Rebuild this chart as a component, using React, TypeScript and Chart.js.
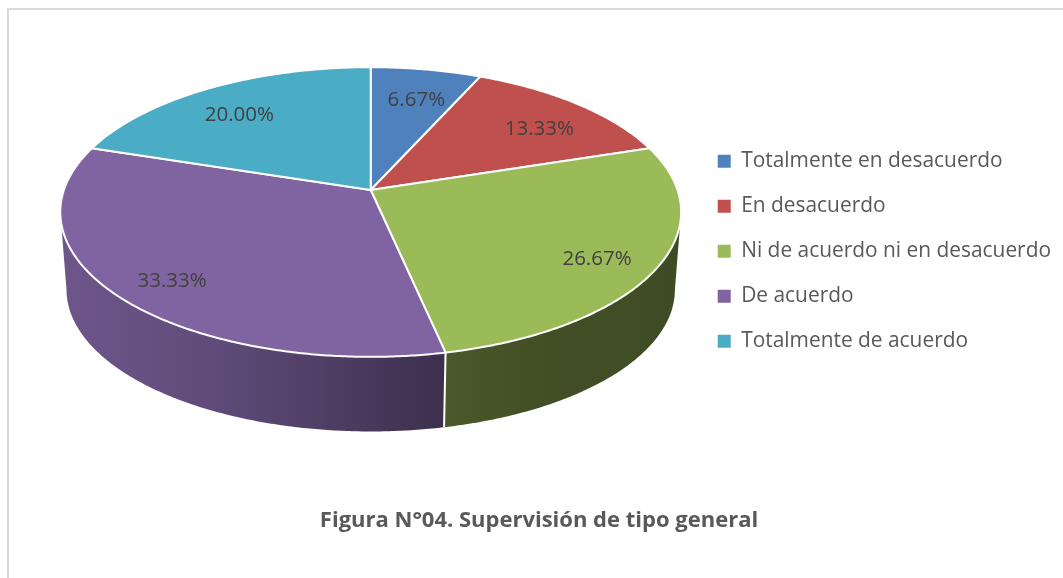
import React, { useEffect, useRef } from "react";
import { Chart, registerables } from "chart.js";

Chart.register(...registerables);

// ---- data ----
const categories = [
  "Totalmente en desacuerdo",
  "En desacuerdo",
  "Ni de acuerdo ni en desacuerdo",
  "De acuerdo",
  "Totalmente de acuerdo",
];
const percentages = [6.67, 13.33, 26.67, 33.33, 20.0];
const valueLabels = ["6.67%", "13.33%", "26.67%", "33.33%", "20.00%"];
const sliceColors = ["#4f81bd", "#c0504d", "#9bbb59", "#8064a2", "#4bacc6"];
const chartTitle = "Figura N°04. Supervisión de tipo general";

// ---- styles ----
const FONT = "'Open Sans', 'Noto Sans', sans-serif";
const sideStops: [number, number][] = [
  [0, 0.86],
  [0.23, 0.76],
  [0.39, 0.65],
  [0.61, 0.48],
  [0.75, 0.43],
  [1, 0.4],
];
// plot area offset inside the chart area (px at k = 1)
const plotShiftX = 15.5;
const plotShiftY = -2;

function shade(hex: string, f: number) {
  const n = parseInt(hex.slice(1), 16);
  const r = Math.round(((n >> 16) & 255) * f);
  const g = Math.round(((n >> 8) & 255) * f);
  const b = Math.round((n & 255) * f);
  return `rgb(${r},${g},${b})`;
}

const pie3dPlugin = {
  id: "pie3d",
  beforeDraw(chart: any) {
    const ctx = chart.ctx;
    ctx.save();
    ctx.strokeStyle = "#d9d9d9";
    ctx.lineWidth = 2;
    ctx.strokeRect(8, 9, 1300, 800);
    ctx.restore();
  },
  beforeDatasetsDraw(chart: any) {
    const meta = chart.getDatasetMeta(0);
    const arcs = meta.data as any[];
    if (!arcs.length) return false;
    const ctx = chart.ctx as CanvasRenderingContext2D;
    const first = arcs[0];
    const R = first.outerRadius;
    const k = R / 240;
    const a = 309 * k;
    const b = 142.5 * k;
    const h = 78.5 * k;
    const p = 0.152;
    const s2 = 0.98;
    const hx = first.x + plotShiftX * k;
    const hy = first.y + plotShiftY * k - (-b / (1 + p) + h + (s2 * b) / (1 - p)) / 2;

    const pt = (th: number, r: number, low: boolean): [number, number] => {
      const c = Math.cos(th);
      const s = Math.sin(th);
      const den = 1 + p * r * c;
      const X = (r * s) / den;
      const Y = (r * c) / den;
      return low ? [hx + s2 * a * X, hy + h - s2 * b * Y] : [hx + a * X, hy - b * Y];
    };
    const step = Math.PI / 360;
    const arcPts = (t1: number, t2: number, r: number, low: boolean) => {
      const n = Math.max(2, Math.ceil(Math.abs(t2 - t1) / step));
      const out: [number, number][] = [];
      for (let i = 0; i <= n; i++) out.push(pt(t1 + ((t2 - t1) * i) / n, r, low));
      return out;
    };
    const thR = Math.acos(-p);
    const thL = 2 * Math.PI - thR;
    const x0 = hx - a * 1.02;
    const x1 = hx + a * 1.02;

    ctx.save();
    // sides
    arcs.forEach((el: any) => {
      const t1 = el.startAngle + Math.PI / 2;
      const t2 = el.endAngle + Math.PI / 2;
      const lo = Math.max(t1, thR);
      const hi = Math.min(t2, thL);
      if (hi <= lo) return;
      const poly = [...arcPts(lo, hi, 1, false), ...arcPts(hi, lo, 1, true)];
      ctx.beginPath();
      poly.forEach(([x, y], j) => (j ? ctx.lineTo(x, y) : ctx.moveTo(x, y)));
      ctx.closePath();
      const g = ctx.createLinearGradient(x0, 0, x1, 0);
      sideStops.forEach(([t, f]) => g.addColorStop(t, shade(el.options.backgroundColor, f)));
      ctx.fillStyle = g;
      ctx.fill();
    });
    // side dividers
    ctx.strokeStyle = "#ffffff";
    ctx.lineWidth = 2;
    arcs.forEach((el: any) => {
      const t = el.startAngle + Math.PI / 2;
      if (t > thR && t < thL) {
        const [ax, ay] = pt(t, 1, false);
        const [bx, by] = pt(t, 1, true);
        ctx.beginPath();
        ctx.moveTo(ax, ay);
        ctx.lineTo(bx, by);
        ctx.stroke();
      }
    });
    // top faces
    arcs.forEach((el: any) => {
      const t1 = el.startAngle + Math.PI / 2;
      const t2 = el.endAngle + Math.PI / 2;
      ctx.beginPath();
      ctx.moveTo(hx, hy);
      arcPts(t1, t2, 1, false).forEach(([x, y]) => ctx.lineTo(x, y));
      ctx.closePath();
      ctx.fillStyle = el.options.backgroundColor;
      ctx.fill();
      ctx.lineJoin = "round";
      ctx.strokeStyle = "#ffffff";
      ctx.lineWidth = 2;
      ctx.stroke();
    });
    // value labels
    ctx.fillStyle = "#404040";
    ctx.font = `20.5px ${FONT}`;
    ctx.textAlign = "center";
    ctx.textBaseline = "middle";
    arcs.forEach((el: any, i: number) => {
      const tm = (el.startAngle + el.endAngle) / 2 + Math.PI / 2;
      const [lx, ly] = pt(tm, 0.8, false);
      ctx.fillText(valueLabels[i], lx, ly + 9 * k);
    });
    ctx.restore();
    return false;
  },
};

export default function App() {
  const ref = useRef<HTMLCanvasElement>(null);
  useEffect(() => {
    const chart = new Chart(ref.current!, {
      type: "pie",
      data: {
        labels: categories,
        datasets: [
          {
            data: percentages,
            backgroundColor: sliceColors,
            borderWidth: 0,
          },
        ],
      },
      options: {
        responsive: false,
        animation: false,
        devicePixelRatio: 1,
        events: [],
        layout: { padding: { left: 17, right: 2, top: 13, bottom: 44 } },
        plugins: {
          legend: {
            position: "right",
            fullSize: false,
            labels: {
              boxWidth: 13,
              boxHeight: 13,
              padding: 24.1,
              color: "#595959",
              font: { family: FONT, size: 20.9 },
            },
          },
          title: {
            display: true,
            text: chartTitle,
            position: "bottom",
            color: "#595959",
            font: { family: FONT, size: 22, weight: "bold" },
            padding: { top: 18, bottom: 0 },
          },
          tooltip: { enabled: false },
        },
      },
      plugins: [pie3dPlugin],
    } as any);
    return () => chart.destroy();
  }, []);
  return (
    <div style={{ position: "fixed", left: 0, top: 0, width: 1063, height: 578, background: "#ffffff" }}>
      <canvas ref={ref} width={1063} height={578} style={{ display: "block", width: 1063, height: 578 }} />
    </div>
  );
}
